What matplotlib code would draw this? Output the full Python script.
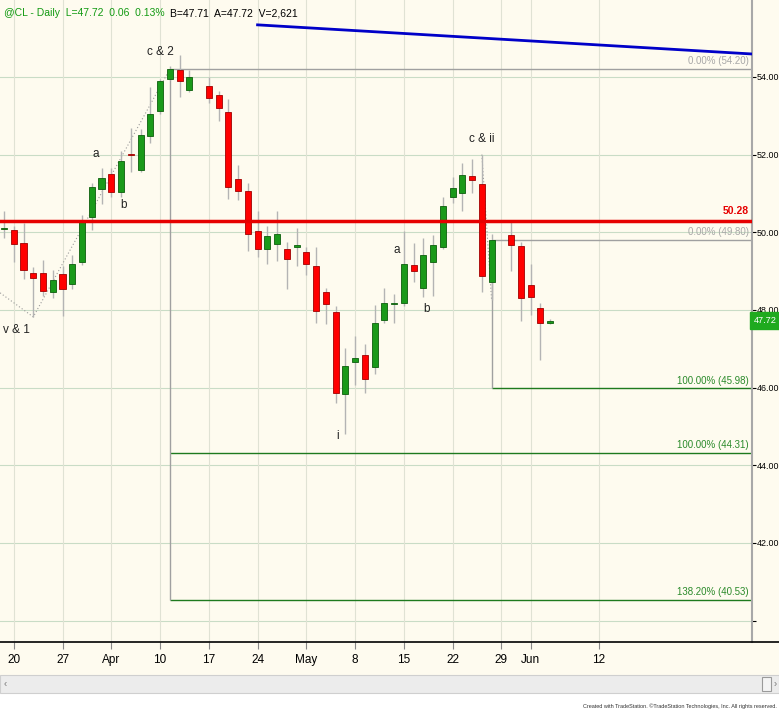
import numpy as np
import matplotlib.pyplot as plt
from matplotlib.patches import Rectangle
from matplotlib.transforms import blended_transform_factory

# daily bars, index 0 = Mar 17; None = empty slot (holiday)
opens = [50.08, 50.06, 49.73, 48.94, 48.94, 48.45, 48.92, 48.68, 49.24, 50.38,
         51.11, 51.50, 51.03, 52.00, 51.60, 52.49, 53.11, 53.94, 54.18, 53.65,
         None, 53.77, 53.54, 53.09, 51.37, 51.05, 50.03, 49.56, 49.69, 49.56,
         49.63, 49.50, 49.13, 48.45, 47.94, 45.83, 46.67, 46.84, 46.52, 47.74,
         48.15, 48.17, 49.16, 48.56, 49.24, 49.63, 50.92, 51.02, 51.45, 51.24,
         48.73, None, 49.93, 49.65, 48.64, 48.04, 47.66]
highs = [50.55, 50.15, 50.25, 49.11, 49.28, 49.02, 49.13, 49.41, 50.44, 51.28,
         51.65, 51.65, 52.10, 52.68, 52.65, 53.73, 53.95, 54.27, 54.57, 54.18,
         None, 54.01, 53.64, 53.43, 51.73, 51.26, 50.56, 50.16, 50.55, 49.76,
         50.10, 49.63, 49.63, 48.57, 48.10, 47.01, 47.33, 47.12, 48.13, 48.56,
         48.41, 50.02, 49.72, 49.85, 49.93, 50.92, 51.41, 51.78, 51.88, 52.00,
         49.95, None, 50.26, 49.74, 49.18, 48.17, 47.76]
lows = [49.85, 49.24, 48.79, 47.82, 48.36, 48.32, 47.84, 48.55, 49.15, 50.06,
        50.73, 50.92, 50.90, 51.56, 51.54, 52.29, 53.05, 53.92, 53.49, 53.62,
        None, 53.34, 52.87, 50.85, 50.83, 49.53, 49.36, 49.18, 49.27, 48.53,
        49.13, 48.90, 47.67, 47.64, 45.61, 44.80, 46.07, 45.85, 46.34, 47.67,
        47.67, 48.10, 48.73, 48.34, 48.37, 49.57, 50.75, 50.56, 51.02, 48.45,
        48.25, None, 49.01, 47.72, 47.87, 46.71, 47.64]
closes = [50.10, 49.71, 49.04, 48.83, 48.50, 48.77, 48.53, 49.17, 50.27, 51.16,
          51.39, 51.03, 51.84, 51.98, 52.51, 53.04, 53.89, 54.20, 53.90, 53.99,
          None, 53.45, 53.19, 51.17, 51.05, 49.96, 49.56, 49.91, 49.95, 49.30,
          49.66, 49.18, 47.98, 48.15, 45.85, 46.56, 46.76, 46.21, 47.66, 48.17,
          48.18, 49.17, 48.99, 49.42, 49.67, 50.68, 51.13, 51.48, 51.35, 48.88,
          49.79, None, 49.66, 48.32, 48.34, 47.66, 47.72]

date_pos = [1, 6, 11, 16, 21, 26, 31, 36, 41, 46, 51, 54, 61]
date_labels = ["20", "27", "Apr", "10", "17", "24", "May", "8", "15", "22", "29", "Jun", "12"]
price_ticks = [40, 42, 44, 46, 48, 50, 52, 54]

wave_labels = [(1.3, 47.48, "v & 1"), (9.4, 52.02, "a"), (12.3, 50.70, "b"),
               (16.0, 54.64, "c & 2"), (34.2, 44.75, "i"), (40.3, 49.54, "a"),
               (43.3, 48.03, "b"), (49.0, 52.40, "c & ii")]
wave1_x, wave1_y = [-0.4, 3, 17], [48.44, 47.82, 54.20]
wave2_x, wave2_y = [49, 50], [52.00, 48.25]

# fib projections: (start bar, level, label, colour)
fib_levels = [(17, 54.20, "0.00% (54.20)", "#a8a8a8"),
              (17, 44.31, "100.00% (44.31)", "#2a8a2a"),
              (17, 40.53, "138.20% (40.53)", "#2a8a2a"),
              (50, 49.80, "0.00% (49.80)", "#a8a8a8"),
              (50, 45.98, "100.00% (45.98)", "#2a8a2a")]
red_level = 50.28
blue_x, blue_y = [26, 76.7], [55.34, 54.59]
last_price = 47.72

plt.rcParams["font.family"] = ["Liberation Sans", "DejaVu Sans"]
BG = "#fefbef"

fig = plt.figure(figsize=(7.79, 7.13), dpi=100)
fig.patch.set_facecolor(BG)
fig.patches.append(Rectangle((0, 0), 1, 20 / 713, transform=fig.transFigure,
                             facecolor="white", edgecolor="none", zorder=-5))
# scrollbar
fig.patches.append(Rectangle((0, 20 / 713), 1, 18 / 713, transform=fig.transFigure,
                             facecolor="#ececec", edgecolor="#cfcfcf", lw=0.8, zorder=-5))
fig.patches.append(Rectangle((762 / 779, 22 / 713), 9 / 779, 14 / 713, transform=fig.transFigure,
                             facecolor="#f4f4f4", edgecolor="#9a9a9a", lw=0.8, zorder=-4))
fig.text(4 / 779, 29 / 713, "‹", fontsize=7, color="#777", va="center")
fig.text(774 / 779, 29 / 713, "›", fontsize=7, color="#777", va="center")
fig.text(0.997, 7 / 713, "Created with TradeStation. ©TradeStation Technologies, Inc. All rights reserved.",
         ha="right", va="center", fontsize=4.0, color="#333")

ax = fig.add_axes([0, 71 / 713, 752 / 779, 642 / 713])
ax.set_facecolor(BG)
ax.set_xlim(-0.41, 76.7)
ax.set_ylim(39.45, 55.98)

for g in price_ticks:
    ax.axhline(g, color="#c9dcc6", lw=0.8, zorder=1)
for d in date_pos:
    ax.axvline(d, color="#e0e2d4", lw=0.8, zorder=1)

# candles
for i, (o, h, l, c) in enumerate(zip(opens, highs, lows, closes)):
    if o is None:
        continue
    up = c >= o
    ax.vlines(i, l, h, color="#b4b4b4", lw=1, zorder=3)
    bottom = min(o, c)
    height = max(abs(c - o), 0.035)
    ax.bar(i, height, bottom=bottom, width=0.62,
           color="#1a9a1a" if up else "#ff0000",
           edgecolor="#0c5e0c" if up else "#a00000", lw=0.6, zorder=4)

# wave lines and labels
ax.plot(wave1_x, wave1_y, ls=(0, (1, 2)), color="#9a9a9a", lw=0.8, zorder=2)
ax.plot(wave2_x, wave2_y, ls=(0, (1, 2)), color="#9a9a9a", lw=0.8, zorder=2)
for x, y, s in wave_labels:
    ax.text(x, y, s, ha="center", va="center", fontsize=8.5, color="#222", zorder=6)

# trend line, red line, fib projections
ax.plot(blue_x, blue_y, color="#0000c8", lw=2, zorder=5)
ax.axhline(red_level, color="#e60000", lw=2.5, zorder=5)
tr = blended_transform_factory(ax.transAxes, ax.transData)
ax.annotate(f"{red_level:.2f}", xy=(0.996, red_level), xycoords=tr, xytext=(0, 4),
            textcoords="offset points", ha="right", va="bottom", fontsize=7.5,
            color="#e60000", fontweight="bold")

fib_groups = {}
for start, lvl, s, col in fib_levels:
    ax.hlines(lvl, start, 76.7, color="#a0a0a0" if col == "#a8a8a8" else "#1e7a1e",
              lw=1, zorder=2)
    fib_groups.setdefault(start, []).append(lvl)
    ax.annotate(s, xy=(0.996, lvl), xycoords=tr, xytext=(0, 2),
                textcoords="offset points", ha="right", va="bottom",
                fontsize=7, color=col, zorder=6)
for start, lv in fib_groups.items():
    ax.vlines(start, min(lv), max(lv), color="#a0a0a0", lw=1, zorder=2)

# axes decoration
for s in ["top", "left", "bottom"]:
    ax.spines[s].set_visible(False)
ax.spines["right"].set_color("#a8a8a8")
ax.spines["right"].set_linewidth(1.5)
ax.yaxis.tick_right()
ax.set_yticks(price_ticks)
ax.set_yticklabels(["" if p == 40 else f"{p:.2f}" for p in price_ticks])
ax.tick_params(axis="y", direction="out", length=3, width=0.8, color="black",
               pad=0.3, labelsize=6.4)
ax.set_xticks(date_pos)
ax.set_xticklabels(date_labels)
ax.tick_params(axis="x", direction="out", length=5, width=0.8, color="#888",
               pad=3.5, labelsize=8.5)

fig.add_artist(plt.Line2D([0, 1], [71 / 713, 71 / 713], transform=fig.transFigure,
                          color="black", lw=1.2))

ax.text(1.003, last_price, f"{last_price:.2f}", transform=tr, ha="left", va="center",
        fontsize=6.6, color="white", clip_on=False, zorder=7,
        bbox=dict(boxstyle="square,pad=0.45", fc="#1faa1f", ec="#1faa1f"))

hdr_y = 1 - 13 / 713
t1 = fig.text(4 / 779, hdr_y, "@CL - Daily  L=47.72  0.06  0.13%", color="#129a12",
              fontsize=7.5, va="center")
fig.canvas.draw()
bb = t1.get_window_extent()
fig.text((bb.x1 + 5) / 779, hdr_y, "B=47.71  A=47.72  V=2,621", color="black",
         fontsize=7.5, va="center")

fig.savefig("out.png", dpi=100, facecolor=fig.get_facecolor())
